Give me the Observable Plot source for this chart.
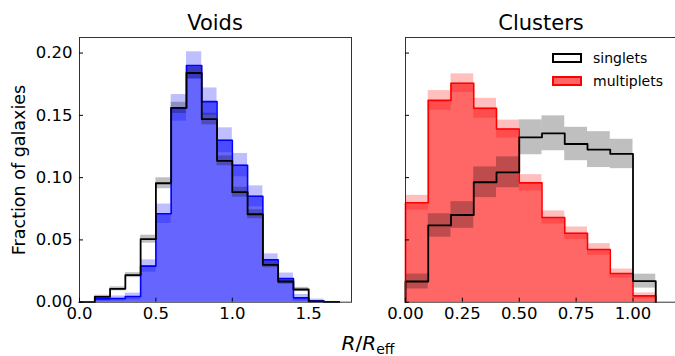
<!DOCTYPE html>
<html>
<head>
<meta charset="utf-8">
<script src="https://cdn.jsdelivr.net/npm/d3@7"></script>
<script src="https://cdn.jsdelivr.net/npm/@observablehq/plot@0.6"></script>
<style>
  html, body { margin: 0; padding: 0; background: #fff; }
  #chart { position: relative; width: 675px; height: 356px; overflow: hidden; font-family: "DejaVu Sans", sans-serif; color: #000; }
  .panel { position: absolute; top: 0; }
  .title { position: absolute; font-size: 21px; transform: translateX(-50%); white-space: nowrap; line-height: 1; }
  .ylabel { position: absolute; font-size: 17.5px; white-space: nowrap; line-height: 1; transform: translate(-50%, -50%) rotate(-90deg); }
  .xlabel { position: absolute; font-size: 20px; white-space: nowrap; line-height: 1; transform: translateX(-50%); }
  .xlabel sub { font-size: 14px; vertical-align: -4px; font-style: normal; }
  .leg { position: absolute; font-size: 14px; white-space: nowrap; line-height: 1; }
  .swatch { position: absolute; box-sizing: border-box; width: 30px; height: 10px; border: 2px solid; }
</style>
</head>
<body>
<div id="chart"></div>
<script>
// ---------- data ----------
// Voids: bin left edges (width 0.1)
const voidBins = [0.0, 0.1, 0.2, 0.3, 0.4, 0.5, 0.6, 0.7, 0.8, 0.9, 1.0, 1.1, 1.2, 1.3, 1.4, 1.5, 1.6];
const voidEnd = 1.7;
const voidSinglets    = [0.0, 0.0043, 0.0107, 0.0217, 0.0506, 0.0955, 0.156, 0.184, 0.147, 0.1135, 0.0883, 0.0706, 0.030, 0.0166, 0.0102, 0.0007, 0.0003];
const voidSingletsErr = [0.0, 0.0013, 0.0016, 0.0020, 0.0032, 0.0044, 0.0045, 0.0047, 0.0047, 0.0040, 0.0040, 0.0036, 0.0024, 0.0020, 0.0017, 0.0005, 0.0003];
const voidMultiplets    = [0.0, 0.0027, 0.0030, 0.0046, 0.029, 0.071, 0.156, 0.190, 0.161, 0.130, 0.110, 0.085, 0.034, 0.019, 0.0035, 0.0010, 0.0];
const voidMultipletsErr = [0.0, 0.0020, 0.0020, 0.0027, 0.0050, 0.0078, 0.0107, 0.0110, 0.0110, 0.0100, 0.0094, 0.0084, 0.0048, 0.0044, 0.0027, 0.0015, 0.0];

// Clusters
const clusterBins = [0.0, 0.1, 0.2, 0.3, 0.4, 0.5, 0.6, 0.7, 0.8, 0.9, 1.0];
const clusterEnd = 1.1;
const clusterSinglets    = [0.0166, 0.0616, 0.0700, 0.0963, 0.1043, 0.1324, 0.1356, 0.1270, 0.1225, 0.1190, 0.0169];
const clusterSingletsErr = [0.0060, 0.0094, 0.0107, 0.0123, 0.0124, 0.0140, 0.0140, 0.0134, 0.0144, 0.0118, 0.0056];
const clusterMultiplets    = [0.0798, 0.1620, 0.1758, 0.1557, 0.1390, 0.0958, 0.0680, 0.0554, 0.0423, 0.0230, 0.0051];
const clusterMultipletsErr = [0.0060, 0.0079, 0.0075, 0.0080, 0.0072, 0.0066, 0.0053, 0.0050, 0.0047, 0.0036, 0.0024];

const yTicks = [0.00, 0.05, 0.10, 0.15, 0.20];
const voidXTicks = [0.0, 0.5, 1.0, 1.5];
const clusterXTicks = [0.00, 0.25, 0.50, 0.75, 1.00];
const titles = ["Voids", "Clusters"];
const legendLabels = ["singlets", "multiplets"];

// ---------- helpers ----------
function stepPoints(bins, vals, end) {
  const pts = [{x: bins[0], y: 0}];
  bins.forEach((b, i) => pts.push({x: b, y: vals[i]}));
  pts.push({x: end, y: 0});
  return pts;
}
function bands(bins, vals, errs, width) {
  return bins.map((b, i) => ({x1: b, x2: b + width, lo: vals[i] - errs[i], hi: vals[i] + errs[i]}))
             .filter(d => d.hi > d.lo);
}

function panel({bins, end, sing, singErr, mult, multErr, color, xDomain, xTicks, xFmt, showYLabels, width, marginLeft, marginRight}) {
  const multPts = stepPoints(bins, mult, end);
  const singPts = stepPoints(bins, sing, end);
  return Plot.plot({
    width, height: 330,
    marginLeft, marginRight, marginTop: 37, marginBottom: 28.3,
    style: {fontSize: "16.5px", fontFamily: "DejaVu Sans", background: "transparent", overflow: "visible"},
    x: {domain: xDomain},
    y: {domain: [0, 0.2125]},
    marks: [
      Plot.areaY(multPts, {x: "x", y: "y", curve: "step-after", fill: color, fillOpacity: 0.6}),
      Plot.rectY(bands(bins, mult, multErr, 0.1), {x1: "x1", x2: "x2", y1: "lo", y2: "hi", fill: color, fillOpacity: 0.25}),
      Plot.rectY(bands(bins, sing, singErr, 0.1), {x1: "x1", x2: "x2", y1: "lo", y2: "hi", fill: "black", fillOpacity: 0.25}),
      Plot.line(multPts, {x: "x", y: "y", curve: "step-after", stroke: color, strokeWidth: 1.6}),
      Plot.line(singPts, {x: "x", y: "y", curve: "step-after", stroke: "black", strokeWidth: 1.8}),
      Plot.frame({stroke: "#333", strokeWidth: 1}),
      Plot.axisX({ticks: xTicks, tickFormat: xFmt, tickSize: -4, tickPadding: 9, label: null}),
      Plot.axisY({ticks: yTicks, tickFormat: showYLabels ? d3.format(".2f") : () => "", tickSize: -4, tickPadding: 11, label: null})
    ]
  });
}

const chart = document.getElementById("chart");

const left = panel({
  bins: voidBins, end: voidEnd, sing: voidSinglets, singErr: voidSingletsErr,
  mult: voidMultiplets, multErr: voidMultipletsErr, color: "blue",
  xDomain: [0, 1.78], xTicks: voidXTicks, xFmt: d3.format(".1f"), showYLabels: true,
  width: 360, marginLeft: 79, marginRight: 9
});
left.classList.add("panel");
left.style.left = "0px";
chart.appendChild(left);

const right = panel({
  bins: clusterBins, end: clusterEnd, sing: clusterSinglets, singErr: clusterSingletsErr,
  mult: clusterMultiplets, multErr: clusterMultipletsErr, color: "red",
  xDomain: [0, 1.2], xTicks: clusterXTicks, xFmt: d3.format(".2f"), showYLabels: false,
  width: 300, marginLeft: 25, marginRight: 2
});
right.classList.add("panel");
right.style.left = "380px";
chart.appendChild(right);

// titles
[[titles[0], 215, 13], [titles[1], 541, 13]].forEach(([t, x, y]) => {
  const d = document.createElement("div");
  d.className = "title"; d.textContent = t;
  d.style.left = x + "px"; d.style.top = y + "px";
  chart.appendChild(d);
});

// y label
const yl = document.createElement("div");
yl.className = "ylabel"; yl.textContent = "Fraction of galaxies";
yl.style.left = "20px"; yl.style.top = "170px";
chart.appendChild(yl);

// x label
const xl = document.createElement("div");
xl.className = "xlabel";
xl.innerHTML = "<i>R</i>/<i>R</i><sub>eff</sub>";
xl.style.left = "368px"; xl.style.top = "333px";
chart.appendChild(xl);

// legend
const legItems = [
  {label: legendLabels[0], fill: "white", stroke: "black", y: 52.7},
  {label: legendLabels[1], fill: "rgba(255,0,0,0.6)", stroke: "red", y: 76}
];
legItems.forEach(it => {
  const s = document.createElement("div");
  s.className = "swatch";
  s.style.left = "552px"; s.style.top = it.y + "px";
  s.style.background = it.fill; s.style.borderColor = it.stroke;
  chart.appendChild(s);
  const t = document.createElement("div");
  t.className = "leg"; t.textContent = it.label;
  t.style.left = "593px"; t.style.top = (it.y - 2) + "px";
  chart.appendChild(t);
});
</script>
</body>
</html>
